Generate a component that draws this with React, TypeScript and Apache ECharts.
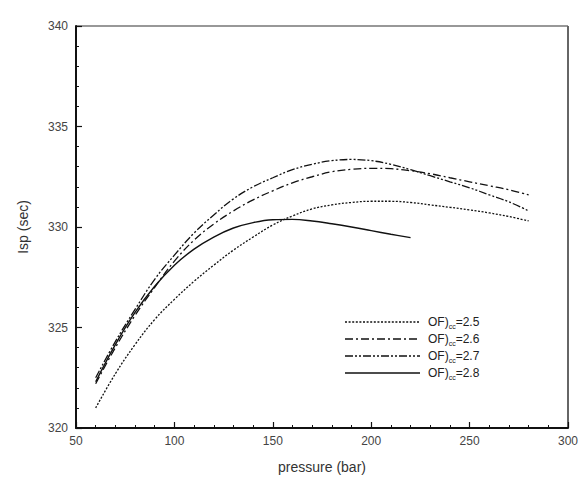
import React, { useEffect, useRef } from "react";
import * as echarts from "echarts";

// Chamber pressure (bar) sampled every 10 bar
const pressure = [60, 70, 80, 90, 100, 110, 120, 130, 140, 150, 160, 170, 180, 190, 200, 210, 220, 230, 240, 250, 260, 270, 280];

// Specific impulse (sec) for each mixture ratio
const isp25 = [321.0, 322.7, 324.15, 325.4, 326.4, 327.3, 328.1, 328.85, 329.5, 330.1, 330.55, 330.9, 331.1, 331.22, 331.28, 331.28, 331.22, 331.1, 330.98, 330.85, 330.7, 330.52, 330.3];
const isp26 = [322.2, 324.0, 325.6, 327.0, 328.3, 329.35, 330.15, 330.8, 331.35, 331.8, 332.2, 332.5, 332.75, 332.87, 332.92, 332.9, 332.8, 332.65, 332.45, 332.25, 332.05, 331.85, 331.6];
const isp27 = [322.5, 324.3, 325.9, 327.4, 328.6, 329.7, 330.6, 331.4, 332.0, 332.45, 332.85, 333.12, 333.3, 333.36, 333.3, 333.12, 332.85, 332.55, 332.25, 331.95, 331.6, 331.25, 330.8];
const pressure28 = [60, 70, 80, 90, 100, 110, 120, 130, 140, 150, 160, 170, 180, 190, 200, 210, 220];
const isp28 = [322.3, 324.15, 325.75, 327.05, 328.1, 328.9, 329.5, 329.95, 330.22, 330.36, 330.38, 330.3, 330.16, 330.0, 329.82, 329.64, 329.47];

const ratios = ["2.5", "2.6", "2.7", "2.8"];
const dashes: (number[] | null)[] = [[2, 1.6], [8, 3, 2, 3], [8, 2, 2, 2, 2, 2], null];

const xTicks = { min: 50, max: 300, interval: 50 };
const yTicks = { min: 320, max: 340, interval: 5 };

const font = "Liberation Sans";
const ink = "#111111";

// Plot frame in pixels
const G = { left: 76, right: 15, top: 26, bottom: 51, w: 583, h: 479 };

export default function App() {
  const ref = useRef<HTMLDivElement>(null);

  useEffect(() => {
    if (!ref.current) return;
    const chart = echarts.init(ref.current, undefined, { renderer: "svg" });

    const seriesData = [
      pressure.map((p, i) => [p, isp25[i]]),
      pressure.map((p, i) => [p, isp26[i]]),
      pressure.map((p, i) => [p, isp27[i]]),
      pressure28.map((p, i) => [p, isp28[i]]),
    ];

    // Key: a sample line and the OF)cc label for each mixture ratio
    const keyLeft = 345;
    const keyTop = 322;
    const keyStep = 17;
    const keyItems = ratios.flatMap((r, i) => [
      {
        type: "line",
        shape: { x1: keyLeft, y1: keyTop + i * keyStep, x2: keyLeft + 75, y2: keyTop + i * keyStep },
        style: { stroke: ink, lineWidth: i === 3 ? 1.4 : 1.3, lineDash: dashes[i] ?? undefined },
      },
      {
        type: "text",
        x: keyLeft + 83,
        y: keyTop + i * keyStep,
        style: {
          text: `{a|OF)}{s|cc}{a|=${r}}`,
          verticalAlign: "middle",
          rich: {
            a: { fontFamily: font, fontSize: 12, fill: "#222", lineHeight: 16, verticalAlign: "middle" },
            s: { fontFamily: font, fontSize: 7, fill: "#222", lineHeight: 16, verticalAlign: "bottom" },
          },
        },
      },
    ]);

    const plotRight = G.w - G.right;
    const plotBottom = G.h - G.bottom;
    const plotMidX = G.left + (plotRight - G.left) / 2;
    const plotMidY = G.top + (plotBottom - G.top) / 2;

    chart.setOption({
      animation: false,
      grid: { left: G.left, right: G.right, top: G.top, bottom: G.bottom },
      graphic: [
        // top and right edges of the frame
        { type: "line", shape: { x1: G.left, y1: G.top, x2: plotRight, y2: G.top }, style: { stroke: "#333333", lineWidth: 1.2 } },
        { type: "line", shape: { x1: plotRight, y1: G.top, x2: plotRight, y2: plotBottom }, style: { stroke: "#666666", lineWidth: 2 } },
        ...keyItems,
        {
          type: "text",
          x: plotMidX,
          y: G.h - 12,
          style: { text: "pressure (bar)", fontFamily: font, fontSize: 14, fill: "#333", align: "center", verticalAlign: "middle" },
        },
        {
          type: "text",
          x: 23,
          y: plotMidY,
          rotation: Math.PI / 2,
          style: { text: "Isp (sec)", fontFamily: font, fontSize: 14, fill: "#333", align: "center", verticalAlign: "middle" },
        },
      ],
      xAxis: {
        type: "value",
        z: 10,
        min: xTicks.min,
        max: xTicks.max,
        interval: xTicks.interval,
        axisLabel: { fontFamily: font, fontSize: 12, color: "#444", margin: 7 },
        axisLine: { show: true, lineStyle: { color: ink, width: 2 } },
        axisTick: { show: true, inside: true, length: 6, lineStyle: { color: ink, width: 1.2 } },
        minorTick: { show: true, splitNumber: 5, length: 3, lineStyle: { color: ink, width: 1 } },
        splitLine: { show: false },
      },
      yAxis: {
        type: "value",
        z: 10,
        min: yTicks.min,
        max: yTicks.max,
        interval: yTicks.interval,
        axisLabel: { fontFamily: font, fontSize: 12, color: "#444", margin: 8 },
        axisLine: { show: true, lineStyle: { color: ink, width: 2 } },
        axisTick: { show: true, inside: true, length: 6, lineStyle: { color: ink, width: 1.2 } },
        minorTick: { show: true, splitNumber: 5, length: 3, lineStyle: { color: ink, width: 1 } },
        splitLine: { show: false },
      },
      series: seriesData.map((d, i) => ({
        type: "line",
        data: d,
        smooth: 0.4,
        showSymbol: false,
        symbol: "none",
        lineStyle: { color: ink, width: i === 3 ? 1.4 : 1.3, type: dashes[i] ?? "solid" },
      })),
    });

    return () => chart.dispose();
  }, []);

  return <div ref={ref} style={{ position: "absolute", left: 0, top: 0, width: G.w, height: G.h }} />;
}
